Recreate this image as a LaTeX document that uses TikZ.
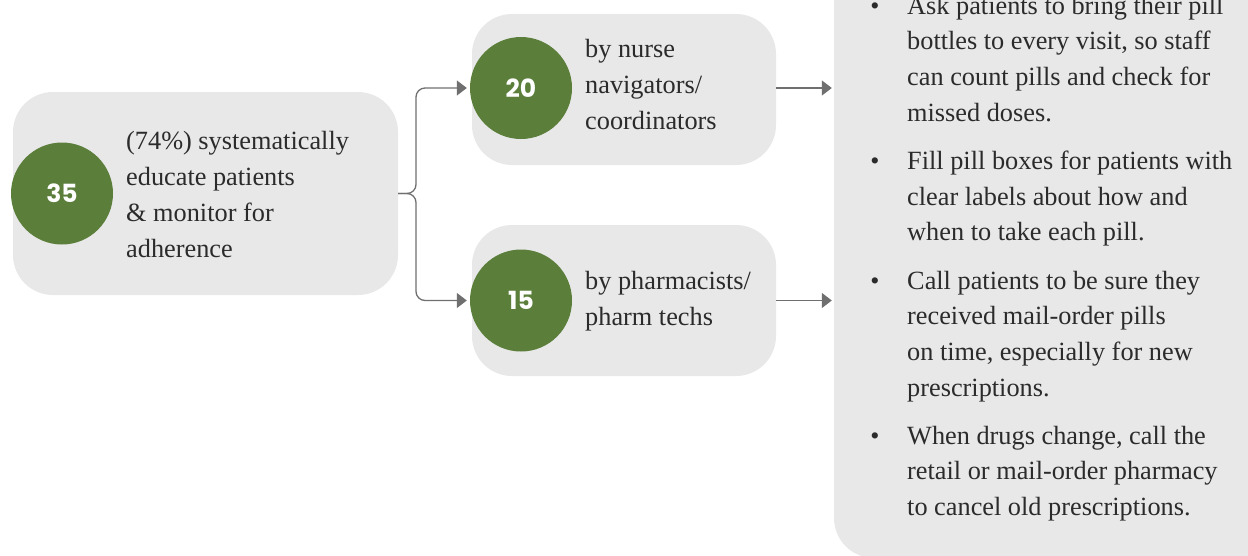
\documentclass[tikz,border=0pt]{standalone}
\usepackage{fontspec}
\setmainfont{Liberation Serif}
\newfontfamily\numfont{Poppins}
\usetikzlibrary{arrows.meta}
\definecolor{leaf}{HTML}{5B7F3B}
\definecolor{panelgrey}{HTML}{E8E8E8}
\definecolor{inkgrey}{HTML}{2B2B2B}
\definecolor{linkgrey}{HTML}{6F6F6F}
\begin{document}
\begin{tikzpicture}[x=1pt,y=-1pt,
  card/.style={draw=none,fill=panelgrey,rounded corners=40pt,inner sep=0pt},
  badge/.style={circle,fill=leaf,minimum size=102pt,inner sep=0pt,
    text=white,font=\numfont\bfseries\fontsize{25}{25}\selectfont},
  label/.style={anchor=base west,align=left,inner sep=0pt,text=inkgrey,
    font=\fontsize{26.3}{36}\selectfont},
  listtext/.style={label,font=\fontsize{26.3}{35.7}\selectfont},
  tip/.style={anchor=base,inner sep=0pt,text=inkgrey,font=\fontsize{26}{26}\selectfont},
  link/.style={draw=linkgrey,line width=1.3pt,-{Triangle[length=10pt,width=15pt]}}]
\useasboundingbox (0,0) rectangle (1248,555);
\clip (0,0) rectangle (1248,555);

% boxes
\node[card,minimum width=385pt,minimum height=203pt] (lbox) at (205.5,193.5) {};
\node[card,minimum width=304pt,minimum height=151pt] (tbox) at (624,89.5) {};
\node[card,minimum width=304pt,minimum height=151pt] (bbox) at (624,300.5) {};
\node[card,minimum width=466pt,minimum height=618pt] (panel) at (1067,249) {};

% number badges
\node[badge] (c35) at (62,193.5) {35};
\node[badge] (c20) at (521,88) {20};
\node[badge] (c15) at (521,300.5) {15};

% box labels (placed by the baseline of their last line)
\node[label] (t35) at (126,257) {(74\%) systematically\\educate patients\\\& monitor for\\adherence};
\node[label] (t20) at (585,129) {by nurse\\navigators/\\coordinators};
\node[label] (t15) at (585,325) {by pharmacists/\\pharm techs};

% bullet list
\node[tip] (b1) at (875,14) {•};
\node[listtext] (p1) at (907,121.1) {Ask patients to bring their pill\\bottles to every visit, so staff\\can count pills and check for\\missed doses.};
\node[tip] (b2) at (875,169.3) {•};
\node[listtext] (p2) at (907,240.7) {Fill pill boxes for patients with\\clear labels about how and\\when to take each pill.};
\node[tip] (b3) at (875,289) {•};
\node[listtext] (p3) at (907,396.1) {Call patients to be sure they\\received mail-order pills\\on time, especially for new\\prescriptions.};
\node[tip] (b4) at (875,444.2) {•};
\node[listtext] (p4) at (907,515.6) {When drugs change, call the\\retail or mail-order pharmacy\\to cancel old prescriptions.};

% brace connector splitting into two arrows
\draw[link,rounded corners=9pt,shorten >=3pt] (lbox.east) -- (416,193.5) -- (416,88) -- (c20.west);
\draw[link,rounded corners=9pt,shorten >=3pt] (lbox.east) -- (416,193.5) -- (416,300.5) -- (c15.west);

% arrows into the panel
\draw[link,shorten >=2pt] (tbox.east |- c20) -- (tbox.east |- c20 -| panel.west);
\draw[link,shorten >=2pt] (bbox.east) -- (bbox.east -| panel.west);
\end{tikzpicture}
\end{document}
